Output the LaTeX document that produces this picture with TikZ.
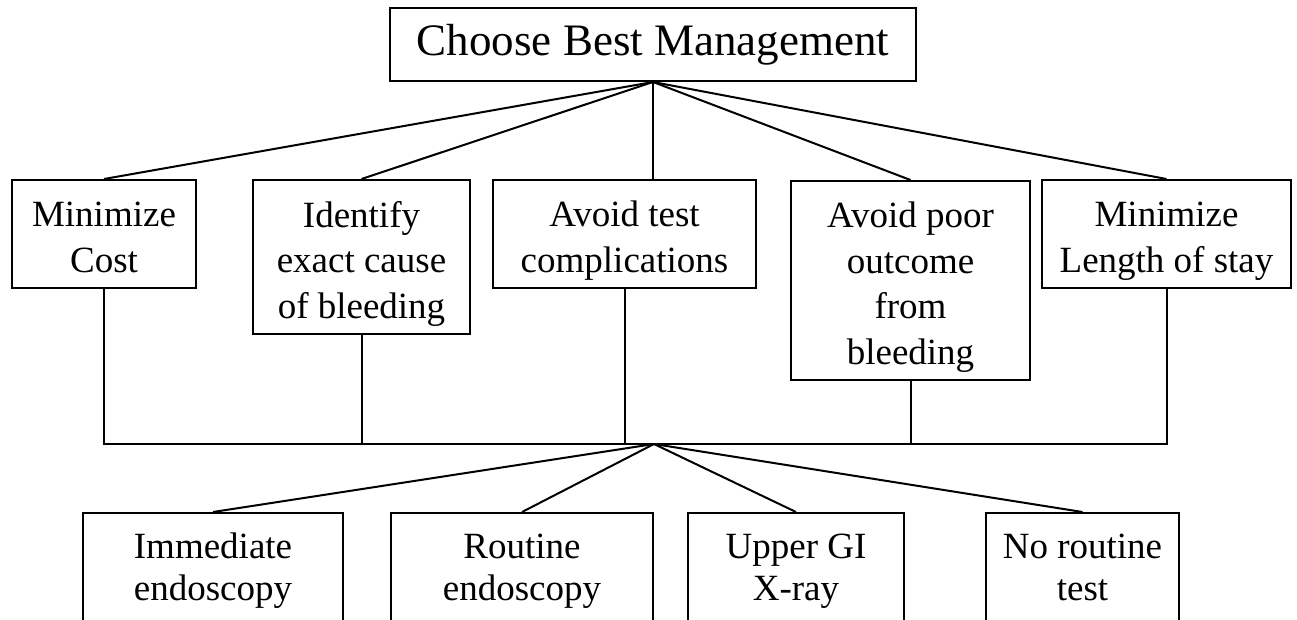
\documentclass[tikz,border=0pt]{standalone}
\usepackage{fontspec}
\setmainfont{Liberation Serif}
\begin{document}
\begin{tikzpicture}[x=1pt, y=-1pt, line width=2pt,
	every node/.style={font=\fontsize{37}{45.5}\selectfont},
	goalbox/.style={draw, align=flush center, inner sep=0pt, minimum height=108pt,
		execute at begin node={\rule{0pt}{45pt}}, execute at end node=\strut},
	testbox/.style={draw, align=flush center, inner sep=0pt, minimum height=120pt,
		font=\fontsize{37}{42}\selectfont,
		execute at begin node={\rule{0pt}{26pt}}, execute at end node=\strut}]
	\useasboundingbox (0,0) rectangle (1297,619);
	\node[draw, inner sep=0pt, minimum width=526pt, minimum height=73pt,
	font=\fontsize{45}{54}\selectfont] (top) at (653,44.5) {Choose Best Management};
	% criteria
	\node[goalbox, text width=184pt] (cost) at (104,234) {Minimize\\Cost};
	\node[goalbox, text width=217pt, minimum height=154pt] (cause) at (361.5,257)
	{Identify\\exact cause\\of bleeding};
	\node[goalbox, text width=263pt] (compl) at (624.5,234) {Avoid test\\complications};
	\node[goalbox, text width=239pt, minimum height=199pt] (outcome) at (910.5,280.5)
	{Avoid poor\\outcome\\from\\bleeding};
	\node[goalbox, text width=249pt] (stay) at (1166.5,234) {Minimize\\Length of stay};
	\coordinate (hub) at (654,444);
	% alternatives
	\node[testbox, text width=260pt] (immed) at (213,573) {Immediate\\endoscopy};
	\node[testbox, text width=262pt] (routine) at (522,573) {Routine\\endoscopy};
	\node[testbox, text width=216pt] (xray) at (796,573) {Upper GI\\X-ray};
	\node[testbox, text width=193pt] (notest) at (1082.5,573) {No routine\\test};
	\draw (top.south) -- (cost.north);
	\draw (top.south) -- (cause.north);
	\draw (top.south) -- (top.south |- compl.north);
	\draw (top.south) -- (outcome.north);
	\draw (top.south) -- (stay.north);
	\foreach \n in {cost,cause,compl,outcome,stay}
	\draw (\n.south) |- (hub);
	\foreach \n in {immed,routine,xray,notest}
	\draw (hub) -- (\n.north);
\end{tikzpicture}
\end{document}
